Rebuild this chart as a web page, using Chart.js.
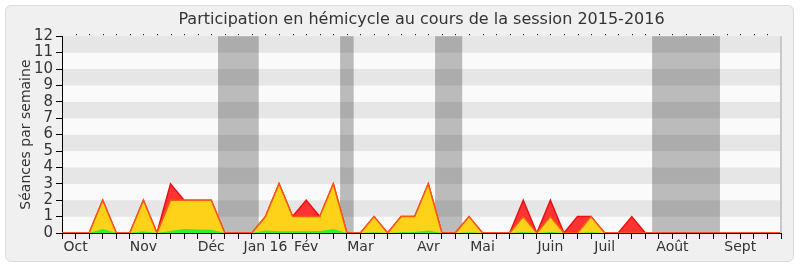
<!DOCTYPE html>
<html>
<head>
<meta charset="utf-8">
<script src="https://cdn.jsdelivr.net/npm/chart.js@4.4.0/dist/chart.umd.min.js"></script>
<style>
  html, body { margin: 0; padding: 0; background: #ffffff; }
  #wrap { position: relative; width: 800px; height: 267px; }
  #panel { position: absolute; left: 5px; top: 5px; width: 787px; height: 255px;
           background: #f0f0f0; border: 1px solid #dcdcdc; border-radius: 6px; }
  #chart { position: absolute; left: 0; top: 0; }
</style>
</head>
<body>
<div id="wrap">
  <div id="panel"></div>
  <canvas id="chart" width="800" height="267"></canvas>
</div>
<script>
// semaines de la session (54 points), libellés de mois sur certaines semaines
const monthLabels = ['Oct', 'Nov', 'Déc', 'Jan 16', 'Fév', 'Mar', 'Avr', 'Mai', 'Juin', 'Juil', 'Août', 'Sept'];
const monthWeeks  = [1, 6, 11, 15, 18, 22, 27, 31, 36, 40, 45, 50];

// séances par semaine
const seancesTotal = [0, 0, 0, 2, 0, 0, 2, 0, 3, 2, 2, 2, 0, 0, 0, 1, 3, 1, 2, 1, 3, 0, 0, 1, 0, 1, 1, 3, 0, 0,
                      1, 0, 0, 0, 2, 0, 2, 0, 1, 1, 0, 0, 1, 0, 0, 0, 0, 0, 0, 0, 0, 0, 0, 0];
const presences    = [0, 0, 0, 2, 0, 0, 2, 0, 2, 2, 2, 2, 0, 0, 0, 1, 3, 1, 1, 1, 3, 0, 0, 1, 0, 1, 1, 3, 0, 0,
                      1, 0, 0, 0, 1, 0, 1, 0, 0, 1, 0, 0, 0, 0, 0, 0, 0, 0, 0, 0, 0, 0, 0, 0];
const interventions = [0, 0, 0, 0.25, 0, 0, 0.1, 0, 0.12, 0.25, 0.22, 0.2, 0, 0, 0, 0.15, 0.1, 0.1, 0.1, 0.12, 0.25, 0, 0, 0.04, 0, 0.05, 0.06, 0.15, 0, 0,
                       0.04, 0, 0, 0, 0.06, 0, 0.06, 0, 0, 0.05, 0, 0, 0, 0, 0, 0, 0, 0, 0, 0, 0, 0, 0, 0];

// vacances parlementaires (en semaines)
const holidayFrom = [11.5, 20.5, 27.5, 43.5];
const holidayTo   = [14.5, 21.5, 29.5, 48.5];

const weekLabels = seancesTotal.map((_, i) => {
    const k = monthWeeks.indexOf(i);
    return k >= 0 ? monthLabels[k] : '';
});

const FONT = 'DejaVu Sans';
const TEXT = '#333333';

const backgroundPlugin = {
    id: 'fond',
    beforeDraw(chart) {
        const { ctx, chartArea: a, scales: { x, y } } = chart;
        ctx.save();
        for (let v = 0; v < 12; v++) {
            const top = y.getPixelForValue(v + 1);
            const bot = y.getPixelForValue(v);
            ctx.fillStyle = (v % 2 === 1) ? '#e6e6e6' : '#fafafa';
            ctx.fillRect(a.left, top, a.right - a.left, bot - top);
        }
        ctx.fillStyle = 'rgba(0, 0, 0, 0.25)';
        holidayFrom.forEach((f, i) => {
            const x0 = x.getPixelForValue(f);
            const x1 = x.getPixelForValue(holidayTo[i]);
            ctx.fillRect(x0, a.top, x1 - x0, a.bottom - a.top);
        });
        ctx.restore();
    },
    afterDraw(chart) {
        const { ctx, chartArea: a, scales: { x } } = chart;
        ctx.save();
        ctx.fillStyle = '#000000';
        for (let i = 1; i < weekLabels.length - 1; i++) {
            const px = Math.round(x.getPixelForValue(i));
            ctx.fillRect(px, a.top - 2, 1, 1);
        }
        ctx.fillStyle = '#c8c8c8';
        ctx.fillRect(a.right - 1, a.top, 2, a.bottom - a.top);
        ctx.restore();
    }
};

const area = (data, fill, line, width) => ({
    data: data,
    backgroundColor: fill,
    borderColor: line,
    borderWidth: width,
    fill: 'origin',
    tension: 0,
    pointRadius: 0
});

new Chart(document.getElementById('chart'), {
    type: 'line',
    data: {
        labels: weekLabels,
        datasets: [
            area(interventions, '#33ee33', '#22dd22', 0),
            area(presences, '#ffd21a', '#ff5a14', 1.5),
            area(seancesTotal, '#ff3333', '#ee1111', 1.5)
        ]
    },
    options: {
        responsive: false,
        animation: false,
        devicePixelRatio: 1,
        layout: { padding: { left: 0, right: 19, top: 0, bottom: 0 } },
        plugins: {
            legend: { display: false },
            tooltip: { enabled: false },
            title: {
                display: true,
                text: 'Participation en hémicycle au cours de la session 2015-2016',
                color: TEXT,
                fullSize: false,
                font: { family: FONT, size: 16, weight: 'normal' },
                padding: { top: 10, bottom: 7 }
            }
        },
        scales: {
            x: {
                type: 'category',
                offset: false,
                afterFit: (s) => { s.height = 34; },
                border: { display: true, color: '#000000', width: 1 },
                grid: { drawOnChartArea: false, tickLength: 6, color: '#000000' },
                ticks: { autoSkip: false, maxRotation: 0, padding: 0, color: TEXT,
                         font: { family: FONT, size: 14 } }
            },
            y: {
                min: 0,
                max: 12,
                afterFit: (s) => { s.width = 62; },
                border: { display: true, color: '#000000', width: 1 },
                grid: { drawOnChartArea: false, tickLength: 6, color: '#000000' },
                ticks: { stepSize: 1, autoSkip: false, padding: 3, color: TEXT,
                         font: { family: FONT, size: 15, lineHeight: 1 } },
                title: {
                    display: true,
                    text: 'Séances par semaine',
                    color: TEXT,
                    font: { family: FONT, size: 14 },
                    padding: { top: 18, bottom: 0 }
                }
            }
        }
    },
    plugins: [backgroundPlugin]
});
</script>
</body>
</html>
